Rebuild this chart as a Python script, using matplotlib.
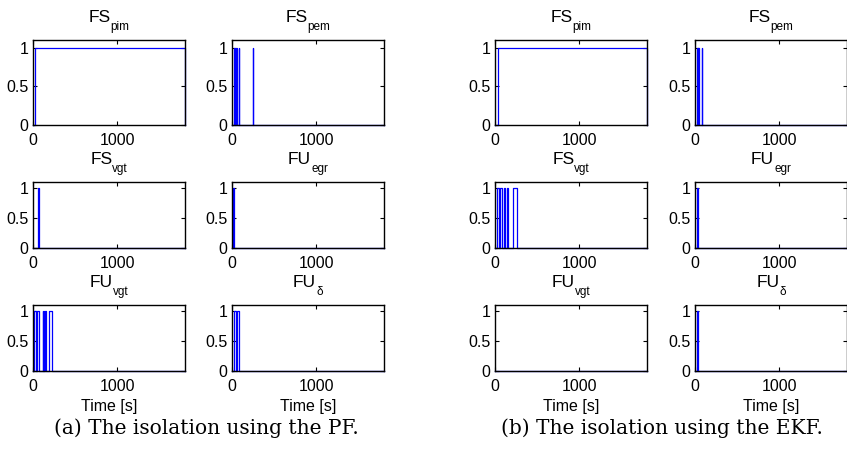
import numpy as np
import matplotlib.pyplot as plt

plt.rcParams['font.family'] = ['Liberation Sans', 'DejaVu Sans']

# end of the time axis [s]
t_end = 1800

title_main = ['FS', 'FS', 'FS', 'FU', 'FU', 'FU']
title_sub = ['pim', 'pem', 'vgt', 'egr', 'vgt', 'δ']

# intervals (start, end) in seconds where the isolation signal is 1
pf_intervals = [
    [(25, 1800)],
    [(25, 30), (52, 58), (80, 86), (243, 248)],
    [(55, 70)],
    [(15, 25)],
    [(12, 36), (51, 75), (115, 122), (126, 133), (138, 150), (193, 229)],
    [(25, 50), (60, 80)],
]
ekf_intervals = [
    [(30, 1800)],
    [(20, 30), (40, 48), (78, 88)],
    [(24, 47), (59, 83), (103, 122), (139, 158), (210, 257)],
    [(25, 40)],
    [],
    [(25, 40)],
]

captions = ['(a) The isolation using the PF.', '(b) The isolation using the EKF.']


def step_signal(intervals):
    t = [0]
    y = [0]
    for s, e in intervals:
        t += [s, s, e, e]
        y += [0, 1, 1, 0]
    t.append(t_end)
    y.append(y[-1])
    return np.array(t), np.array(y)


fig = plt.figure(figsize=(8.47, 4.57), dpi=100)
W, H = 847, 457
renderer = fig.canvas.get_renderer()

col_left = [[33, 232], [495, 695]]
ax_w = 152
rows = [(40, 125), (182, 248), (305, 371)]

for g, data in enumerate([pf_intervals, ekf_intervals]):
    for k in range(6):
        r, c = divmod(k, 2)
        x0 = col_left[g][c]
        top, bot = rows[r]
        ax = fig.add_axes([x0 / W, 1 - bot / H, ax_w / W, (bot - top) / H])
        t, y = step_signal(data[k])
        ax.plot(t, y, color='#0000ff', lw=0.9, clip_on=False)
        ax.set_xlim(0, t_end)
        ax.set_ylim(0, 1.1)
        ax.set_xticks([0, 1000])
        ax.set_yticks([0, 0.5, 1])
        ax.set_yticklabels(['0', '0.5', '1'])
        ax.tick_params(direction='in', top=True, right=True, length=3,
                       labelsize=11.5, pad=3.5)
        ax.tick_params(axis='x', pad=6)
        for sp in ax.spines.values():
            sp.set_linewidth(1.0)
        if r == 2:
            ax.set_xlabel('Time [s]', fontsize=11.5, labelpad=3)

        # title with a low subscript, centred over the axes
        base_y = 1 - (top - 18) / H
        m = fig.text(0, base_y, title_main[k], fontsize=12.5,
                     ha='left', va='baseline')
        s = fig.text(0, base_y - 8 / H, title_sub[k], fontsize=8.5,
                     ha='left', va='baseline')
        w1 = m.get_window_extent(renderer).width
        w2 = s.get_window_extent(renderer).width
        cx = x0 + ax_w / 2
        left = cx - (w1 + w2) / 2
        m.set_x(left / W)
        s.set_x((left + w1) / W)

fig.text(206 / W, 1 - 428 / H, captions[0], family='DejaVu Serif', fontsize=14.5,
         ha='center', va='center')
fig.text(662 / W, 1 - 428 / H, captions[1], family='DejaVu Serif', fontsize=14.5,
         ha='center', va='center')

fig.savefig('out.png', dpi=100)
